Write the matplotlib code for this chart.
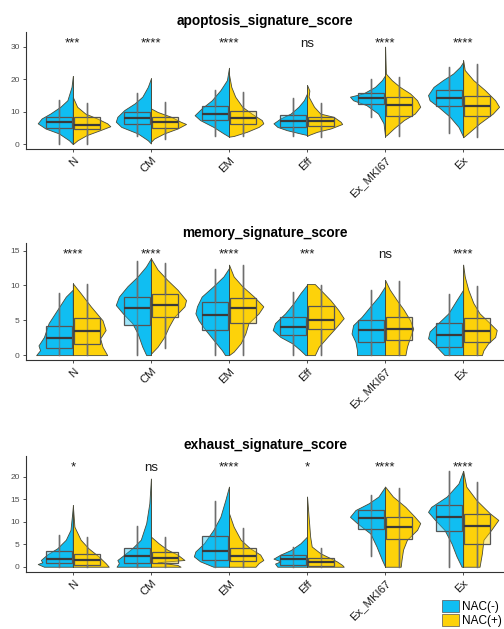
import matplotlib
matplotlib.use("Agg")
import matplotlib.pyplot as plt
from matplotlib.patches import Patch
from matplotlib.transforms import blended_transform_factory

plt.rcParams['font.family'] = ['Liberation Sans', 'DejaVu Sans']

CATEGORIES = ["N", "CM", "EM", "Eff", "Ex_MKI67", "Ex"]
GROUPS = ["NAC(-)", "NAC(+)"]
COLORS = ["#10BEF2", "#FDD20A"]

# ---------------- apoptosis ----------------
APOP_TITLE = "apoptosis_signature_score"
APOP_SIG = ["***", "****", "****", "ns", "****", "****"]
APOP_YTICKS = [0, 10, 20, 30]
# half-violin outlines (value, half-width) for each category
APOP_NEG_VIOLIN = [
    [(0.0, 0), (1.2, 0.05), (3.3, 0.18), (4.8, 0.35), (6.4, 0.45), (7.9, 0.40), (9.4, 0.29), (11.5, 0.16), (13.5, 0.07), (17.6, 0.017), (21.0, 0)],
    [(0.2, 0), (1.2, 0.04), (3.3, 0.17), (5.3, 0.38), (6.9, 0.45), (8.4, 0.43), (10.5, 0.34), (12.5, 0.21), (14.6, 0.11), (17.6, 0.04), (20.2, 0)],
    [(2.3, 0), (3.3, 0.07), (5.3, 0.20), (7.4, 0.37), (8.9, 0.44), (11.0, 0.35), (13.5, 0.22), (16.6, 0.11), (19.7, 0.026), (23.5, 0)],
    [(2.8, 0), (3.3, 0.09), (4.3, 0.26), (5.3, 0.38), (6.4, 0.43), (7.9, 0.34), (9.4, 0.21), (11.5, 0.11), (13.5, 0.04), (15.6, 0)],
    [(2.3, 0), (6.4, 0.02), (9.4, 0.09), (12.0, 0.24), (13.5, 0.41), (14.6, 0.45), (15.6, 0.28), (17.6, 0.13), (19.7, 0.04), (21.2, 0)],
    [(2.3, 0), (5.3, 0.06), (8.4, 0.17), (11.5, 0.32), (13.5, 0.43), (15.1, 0.45), (17.6, 0.38), (19.7, 0.26), (21.7, 0.13), (23.8, 0.04), (25.3, 0)],
]
APOP_POS_VIOLIN = [
    [(0.0, 0), (1.2, 0.06), (2.8, 0.18), (4.3, 0.35), (5.5, 0.48), (6.4, 0.44), (7.9, 0.31), (9.4, 0.16), (11.5, 0.055), (14.5, 0)],
    [(0.7, 0), (1.7, 0.04), (3.3, 0.17), (4.8, 0.34), (6.2, 0.45), (6.9, 0.38), (8.4, 0.26), (9.9, 0.085), (11.0, 0)],
    [(2.3, 0), (2.5, 0.06), (3.8, 0.23), (5.3, 0.38), (6.4, 0.44), (7.4, 0.42), (9.4, 0.29), (11.5, 0.17), (14.6, 0.08), (17.6, 0.03), (21.5, 0)],
    [(2.5, 0), (2.8, 0.02), (3.8, 0.13), (4.8, 0.30), (6.2, 0.45), (6.9, 0.43), (8.4, 0.34), (9.4, 0.17), (11.5, 0.09), (14.6, 0.02), (16.5, 0.03), (18.2, 0)],
    [(2.5, 0), (2.8, 0.02), (4.8, 0.11), (7.4, 0.24), (9.4, 0.38), (11.5, 0.45), (13.5, 0.41), (15.6, 0.32), (17.6, 0.19), (19.7, 0.085), (21.7, 0.01), (30.0, 0)],
    [(2.1, 0), (3.3, 0.06), (6.4, 0.21), (9.4, 0.38), (11.5, 0.46), (13.5, 0.41), (16.6, 0.28), (19.7, 0.13), (22.8, 0.02), (25.8, 0)],
]
# box stats (whislo, q1, median, q3, whishi)
APOP_NEG_BOX = [(0, 5.0, 6.9, 8.4, 13.7), (2.5, 6.1, 7.9, 9.9, 15.6), (2.5, 7.4, 9.2, 11.7, 16.8),
                (2.5, 5.3, 7.1, 8.9, 14.1), (8.2, 12.2, 14.3, 15.6, 19.9), (3.5, 11.7, 14.3, 16.8, 23.8)]
APOP_POS_BOX = [(0, 4.5, 5.8, 8.2, 12.8), (1.7, 5.0, 6.7, 8.4, 13.0), (2.5, 6.2, 7.9, 10.3, 16.1),
                (2.1, 5.5, 7.1, 8.4, 12.5), (2.5, 8.6, 12.0, 14.6, 20.7), (2.1, 8.6, 11.7, 14.9, 24.6)]

# ---------------- memory ----------------
MEM_TITLE = "memory_signature_score"
MEM_SIG = ["****", "****", "****", "***", "ns", "****"]
MEM_YTICKS = [0, 5, 10, 15]
MEM_NEG_VIOLIN = [
    [(0, 0.47), (0.7, 0.42), (1.4, 0.44), (2.6, 0.37), (4.6, 0.31), (6.5, 0.20), (8.4, 0.09), (9.4, 0)],
    [(0, 0.06), (1.2, 0.11), (3.1, 0.17), (4.6, 0.24), (6.0, 0.36), (7.2, 0.45), (8.4, 0.41), (9.9, 0.30), (11.3, 0.17), (12.7, 0.065), (13.9, 0)],
    [(0, 0.05), (0.7, 0.09), (2.2, 0.20), (3.6, 0.30), (5.0, 0.39), (6.0, 0.43), (7.0, 0.41), (8.4, 0.35), (9.9, 0.20), (11.3, 0.07), (12.5, 0)],
    [(0, 0.02), (0.7, 0.085), (1.7, 0.19), (2.6, 0.34), (3.6, 0.44), (4.6, 0.41), (6.0, 0.28), (7.5, 0.17), (8.9, 0.085), (10.1, 0)],
    [(0, 0.36), (0.7, 0.36), (1.9, 0.38), (3.1, 0.43), (4.3, 0.41), (5.5, 0.30), (7.0, 0.19), (8.4, 0.085), (9.9, 0)],
    [(0, 0.24), (0.7, 0.30), (1.7, 0.38), (2.4, 0.45), (3.4, 0.43), (4.6, 0.32), (6.0, 0.19), (7.9, 0.085), (9.4, 0)],
]
MEM_POS_VIOLIN = [
    [(0, 0.44), (1.2, 0.38), (2.4, 0.35), (3.6, 0.42), (5.0, 0.38), (7.0, 0.23), (8.9, 0.10), (10.3, 0)],
    [(0.2, 0), (1.2, 0.085), (2.6, 0.17), (4.1, 0.23), (5.5, 0.30), (7.0, 0.43), (7.9, 0.45), (9.4, 0.34), (10.8, 0.21), (12.3, 0.085), (13.9, 0)],
    [(0, 0), (0.5, 0.06), (1.7, 0.15), (3.1, 0.21), (4.6, 0.25), (6.0, 0.38), (7.0, 0.44), (8.4, 0.32), (9.9, 0.17), (11.3, 0.06), (13.0, 0)],
    [(0, 0.10), (1.2, 0.15), (2.6, 0.26), (4.1, 0.38), (5.3, 0.47), (6.5, 0.40), (7.9, 0.30), (9.4, 0.17), (10.2, 0.10), (10.2, 0)],
    [(0, 0.26), (1.2, 0.28), (2.6, 0.32), (3.8, 0.36), (5.0, 0.32), (6.5, 0.24), (7.9, 0.15), (9.4, 0.06), (10.8, 0)],
    [(0, 0.24), (0.7, 0.26), (1.7, 0.32), (2.6, 0.41), (3.6, 0.43), (4.6, 0.34), (6.0, 0.21), (7.5, 0.13), (9.4, 0.065), (11.3, 0.02), (13.0, 0)],
]
MEM_NEG_BOX = [(0, 1.06, 2.45, 4.2, 8.9), (0, 4.3, 6.8, 8.3, 13.5), (0, 3.6, 5.8, 7.7, 12.3),
               (0, 2.9, 4.0, 5.5, 9.0), (0, 1.9, 3.6, 5.0, 9.4), (0, 1.2, 2.9, 4.6, 8.8)]
MEM_POS_BOX = [(0, 1.6, 3.4, 5.3, 10.2), (1.0, 5.5, 7.2, 8.8, 13.2), (0, 4.6, 6.7, 8.2, 13.0),
               (0, 3.8, 5.0, 7.0, 10.1), (0, 2.2, 3.7, 5.5, 10.6), (0, 1.9, 3.5, 5.3, 9.9)]

# ---------------- exhaust ----------------
EXH_TITLE = "exhaust_signature_score"
EXH_SIG = ["*", "ns", "****", "*", "****", "****"]
EXH_YTICKS = [0, 5, 10, 15, 20]
EXH_NEG_VIOLIN = [
    [(0, 0.37), (0.6, 0.45), (1.0, 0.39), (1.5, 0.41), (2.7, 0.33), (4.1, 0.20), (6.0, 0.09), (8.2, 0.03), (13.3, 0)],
    [(0, 0.44), (0.8, 0.41), (1.5, 0.43), (2.7, 0.34), (4.1, 0.24), (6.0, 0.13), (9.7, 0.06), (14.1, 0.02), (19.6, 0)],
    [(0, 0.20), (1.2, 0.37), (2.3, 0.45), (3.4, 0.43), (5.2, 0.32), (8.2, 0.20), (11.1, 0.11), (14.8, 0.047), (17.8, 0)],
    [(0, 0.38), (0.7, 0.41), (1.2, 0.34), (1.8, 0.43), (2.7, 0.34), (3.7, 0.21), (5.2, 0.085), (6.7, 0)],
    [(0, 0), (1.5, 0.04), (4.5, 0.11), (7.4, 0.19), (9.7, 0.36), (11.1, 0.45), (12.6, 0.38), (14.1, 0.21), (15.6, 0.085), (17.8, 0)],
    [(0, 0.02), (2.3, 0.085), (5.2, 0.15), (8.2, 0.24), (10.4, 0.36), (12.2, 0.45), (13.3, 0.41), (15.6, 0.21), (18.5, 0.06), (21.3, 0)],
]
EXH_POS_VIOLIN = [
    [(0, 0.46), (0.8, 0.42), (2.3, 0.33), (4.1, 0.20), (6.0, 0.10), (8.9, 0.02), (13.7, 0)],
    [(0, 0.38), (0.4, 0.34), (1.0, 0.085), (1.5, 0.43), (2.7, 0.34), (3.8, 0.21), (5.2, 0.10), (6.7, 0)],
    [(0, 0.34), (0.8, 0.38), (1.5, 0.44), (2.7, 0.40), (4.1, 0.27), (6.0, 0.15), (8.9, 0.06), (11.9, 0)],
    [(0, 0.47), (0.4, 0.45), (1.2, 0.38), (1.9, 0.30), (3.0, 0.17), (4.5, 0.06), (6.7, 0.04), (15.6, 0)],
    [(0, 0.20), (1.5, 0.21), (3.8, 0.23), (6.0, 0.28), (8.2, 0.41), (9.7, 0.45), (11.1, 0.38), (13.3, 0.26), (15.6, 0.10), (17.8, 0)],
    [(0, 0.21), (3.0, 0.24), (6.0, 0.26), (8.2, 0.36), (10.4, 0.45), (11.9, 0.34), (14.8, 0.17), (17.8, 0.04), (21.3, 0)],
]
EXH_NEG_BOX = [(0, 0.8, 1.8, 3.4, 7.1), (0, 0.8, 2.3, 4.1, 9.1), (0, 1.5, 3.5, 6.9, 14.7),
               (0, 0.4, 1.8, 2.6, 4.4), (2.3, 8.3, 10.9, 12.6, 15.9), (0, 8.0, 11.1, 13.7, 21.3)]
EXH_POS_BOX = [(0, 0.3, 1.5, 2.8, 6.7), (0, 0.8, 1.9, 3.2, 6.5), (0, 1.2, 2.4, 4.1, 8.6),
               (0, 0.2, 1.0, 1.9, 4.1), (0, 6.1, 8.9, 11.1, 17.4), (0, 5.0, 9.1, 11.7, 18.9)]

PANELS = [
    dict(title=APOP_TITLE, sig=APOP_SIG, yticks=APOP_YTICKS, ylim=(-1.5, 34.5),
         violins=(APOP_NEG_VIOLIN, APOP_POS_VIOLIN), boxes=(APOP_NEG_BOX, APOP_POS_BOX), top_px=32, bot_px=149, title_px=21),
    dict(title=MEM_TITLE, sig=MEM_SIG, yticks=MEM_YTICKS, ylim=(-0.7, 16.1),
         violins=(MEM_NEG_VIOLIN, MEM_POS_VIOLIN), boxes=(MEM_NEG_BOX, MEM_POS_BOX), top_px=243, bot_px=360, title_px=233),
    dict(title=EXH_TITLE, sig=EXH_SIG, yticks=EXH_YTICKS, ylim=(-1.17, 24.6),
         violins=(EXH_NEG_VIOLIN, EXH_POS_VIOLIN), boxes=(EXH_NEG_BOX, EXH_POS_BOX), top_px=456, bot_px=572, title_px=445),
]

W, H = 504, 629
fig = plt.figure(figsize=(W / 100, H / 100), dpi=100)

BOX_OFF = 0.18
BOX_W = 0.34
EDGE = "#4a4a3a"

for p in PANELS:
    ax = fig.add_axes([26 / W, 1 - p["bot_px"] / H, 484 / W, (p["bot_px"] - p["top_px"]) / H])
    xs = list(range(1, len(CATEGORIES) + 1))
    for gi, (violins, boxes) in enumerate(zip(p["violins"], p["boxes"])):
        sign = -1 if gi == 0 else 1
        for ci, c in enumerate(xs):
            prof = violins[ci]
            ys = [v for v, w in prof]
            ws = [c + sign * w for v, w in prof]
            ax.fill_betweenx(ys, c, ws, facecolor=COLORS[gi], edgecolor=EDGE, linewidth=0.6, zorder=2)
            ax.plot([c, c], [ys[0], ys[-1]], color=EDGE, lw=0.6, zorder=2.1)
            lo, q1, med, q3, hi = boxes[ci]
            pos = c + sign * BOX_OFF
            ax.vlines(pos, lo, hi, color="#6e6e6e", lw=1.0, zorder=3)
            stats = [dict(whislo=lo, q1=q1, med=med, q3=q3, whishi=hi, fliers=[])]
            ax.bxp(stats, positions=[pos], widths=BOX_W, patch_artist=True, showcaps=False,
                   showfliers=False, manage_ticks=False,
                   boxprops=dict(facecolor=COLORS[gi] + "66", edgecolor="#555555", linewidth=0.9),
                   medianprops=dict(color="#3a3a3a", linewidth=1.6),
                   whiskerprops=dict(color="#6e6e6e", linewidth=1.0),
                   zorder=4)
    ax.set_xlim(0.4, 6.6)
    ax.set_ylim(*p["ylim"])
    ax.set_xticks(xs)
    ax.set_xticklabels(CATEGORIES, rotation=45, ha="right", rotation_mode="anchor",
                       fontsize=8.2, color="#1a1a1a")
    ax.set_yticks(p["yticks"])
    ax.set_yticklabels([str(t) for t in p["yticks"]], fontsize=6, color="#4d4d4d")
    ax.tick_params(axis="both", length=2.5, width=0.6, color="#333333", pad=2)
    for s in ("top", "right"):
        ax.spines[s].set_visible(False)
    for s in ("left", "bottom"):
        ax.spines[s].set_linewidth(0.8)
        ax.spines[s].set_color("#333333")
    ax.patch.set_alpha(0)
    tr = blended_transform_factory(ax.transData, ax.transAxes)
    for c, lab in zip(xs, p["sig"]):
        ax.text(c, 0.873, lab, transform=tr, ha="center", va="baseline", fontsize=9.5, color="#1a1a1a")
    fig.text(265 / W, 1 - p["title_px"] / H, p["title"], ha="center", va="center",
             fontsize=9.8, fontweight="bold")

handles = [Patch(facecolor=COLORS[i], edgecolor="#555555", linewidth=0.5, label=GROUPS[i]) for i in range(2)]
fig.legend(handles=handles, loc="lower left", bbox_to_anchor=(442 / W, 2 / H), frameon=False,
           fontsize=8.5, handlelength=1.4, handleheight=1.25, handletextpad=0.3, labelspacing=0.05,
           borderpad=0, borderaxespad=0)

fig.savefig("out.png", dpi=100)
